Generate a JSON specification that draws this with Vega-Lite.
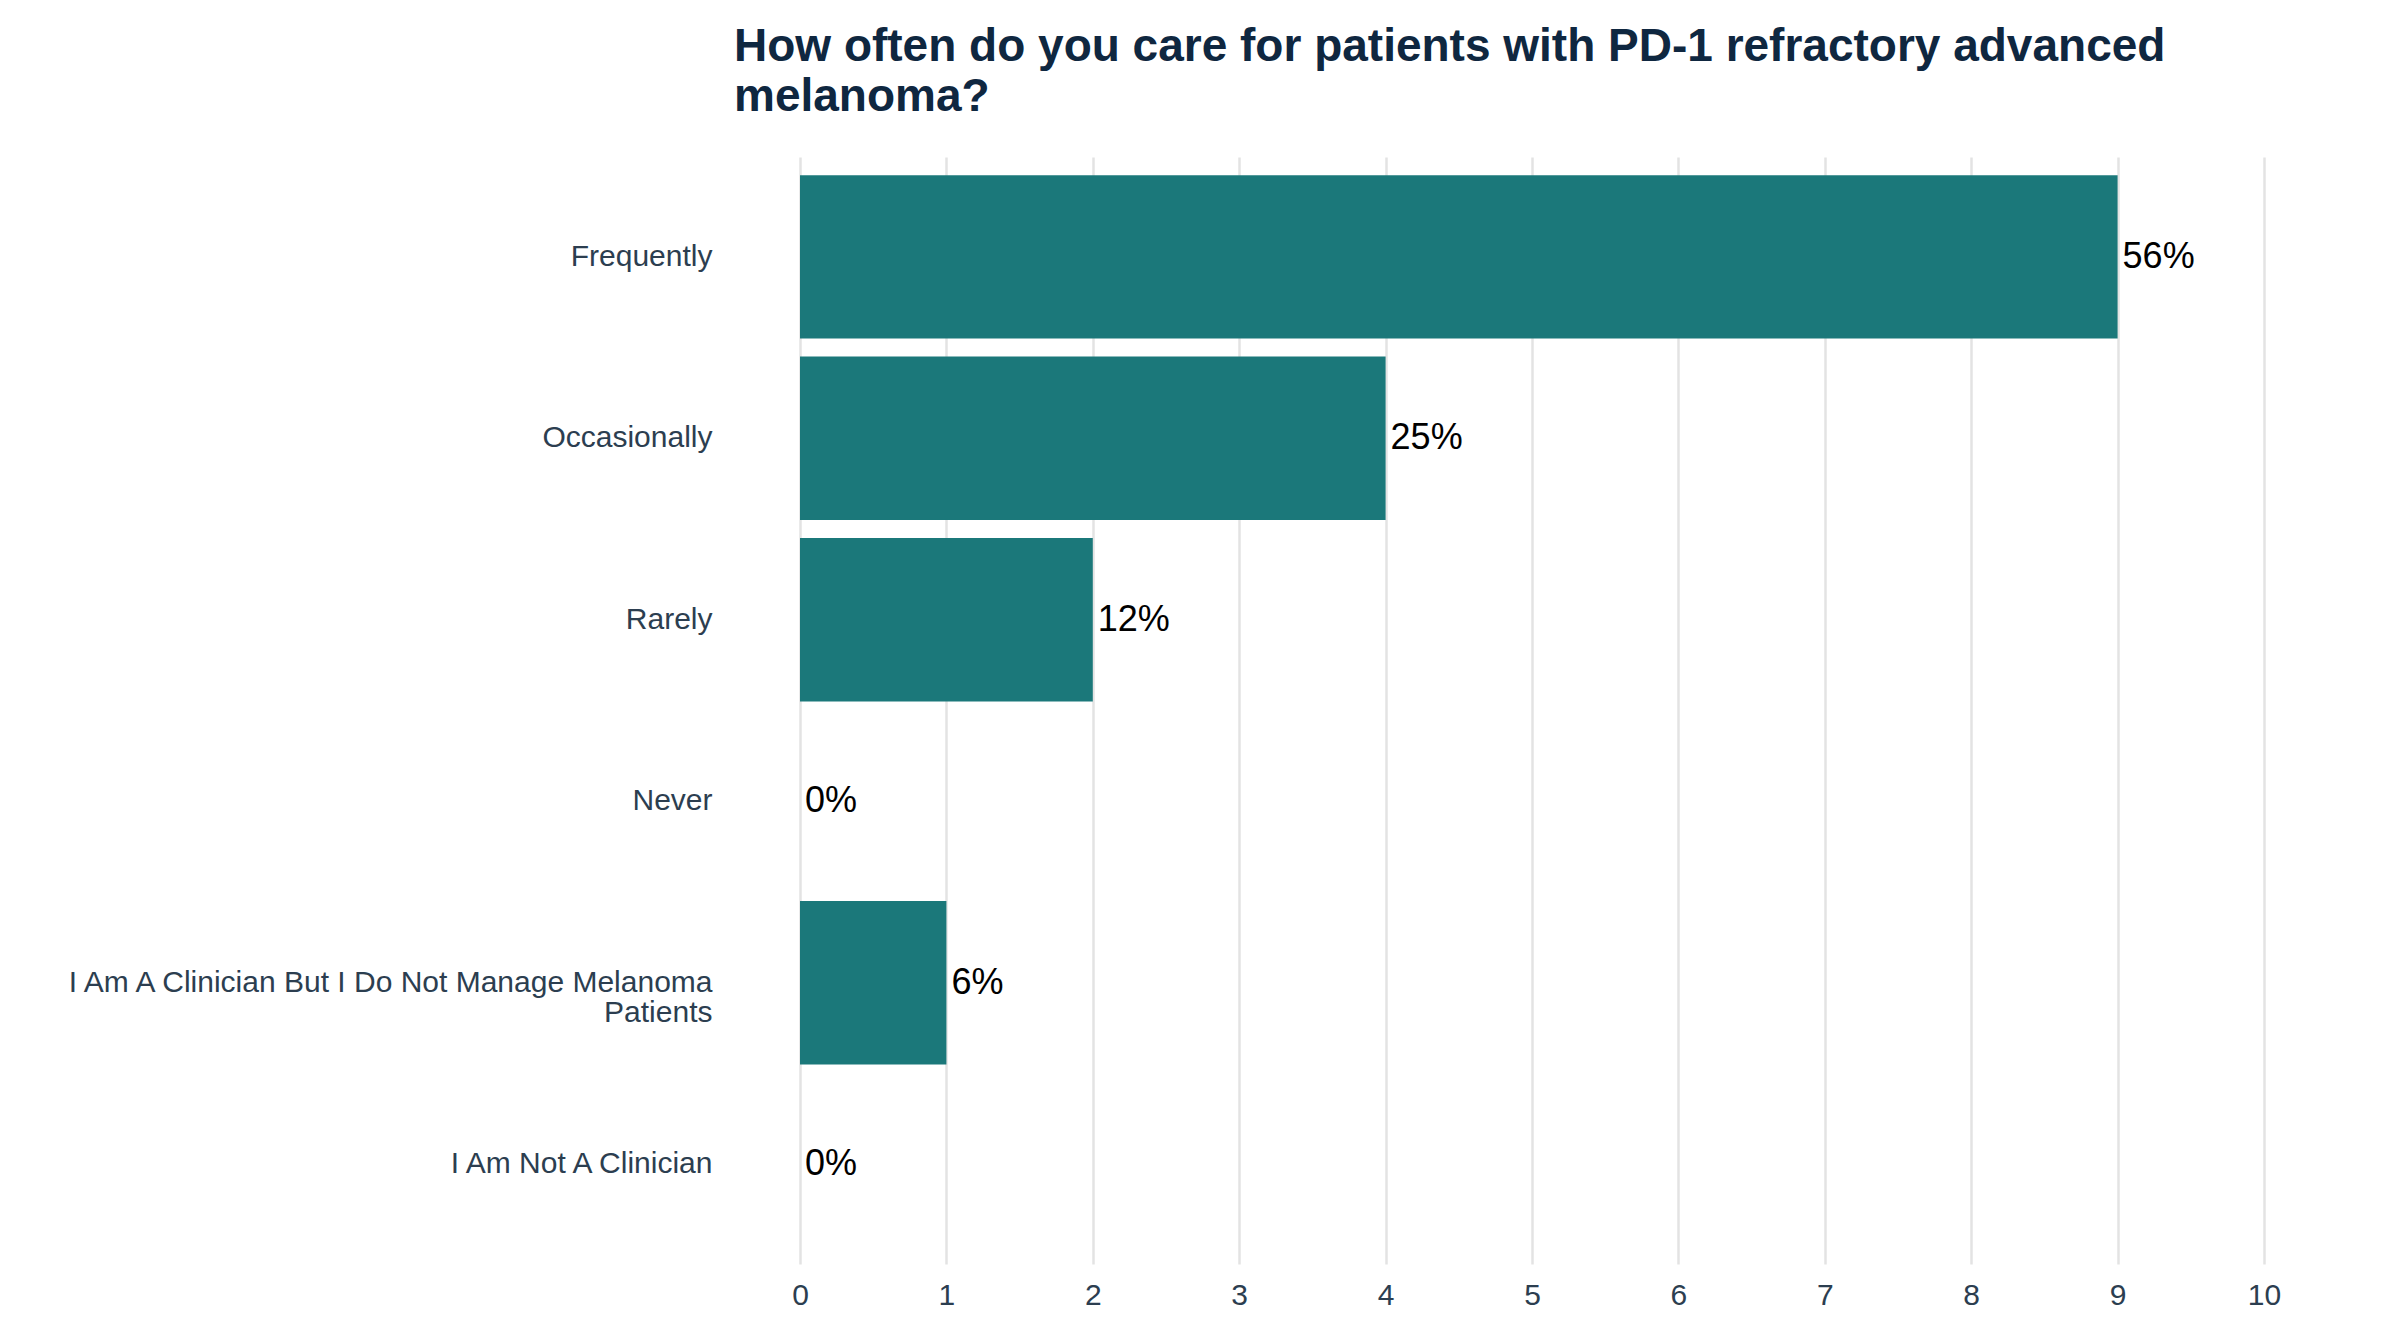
{
  "$schema": "https://vega.github.io/schema/vega-lite/v6.json",
  "width": 1464,
  "height": 1107,
  "autosize": "none",
  "padding": {"left": 800, "top": 157, "right": 136, "bottom": 80},
  "background": "white",
  "title": {
    "text": ["How often do you care for patients with PD-1 refractory advanced", "melanoma?"],
    "anchor": "start",
    "frame": "group",
    "dx": -66,
    "offset": 36,
    "fontSize": 46,
    "font": "Liberation Sans",
    "fontWeight": "bold",
    "color": "#0f2740",
    "lineHeight": 50
  },
  "data": {
    "values": [
      {"category": "Frequently", "count": 9, "pct": "56%"},
      {"category": "Occasionally", "count": 4, "pct": "25%"},
      {"category": "Rarely", "count": 2, "pct": "12%"},
      {"category": "Never", "count": 0, "pct": "0%"},
      {"category": "I Am A Clinician But I Do Not Manage Melanoma|Patients", "count": 1, "pct": "6%"},
      {"category": "I Am Not A Clinician", "count": 0, "pct": "0%"}
    ]
  },
  "encoding": {
    "y": {
      "field": "category",
      "type": "nominal",
      "sort": null,
      "title": null,
      "scale": {"paddingInner": 0.1, "paddingOuter": 0.1},
      "axis": {
        "domain": false,
        "ticks": false,
        "grid": false,
        "labelPadding": 88,
        "labelFontSize": 30,
        "labelFont": "Liberation Sans",
        "labelColor": "#2c3e50",
        "labelLineHeight": 30,
        "labelLimit": 900,
        "labelExpr": "split(datum.label, '|')"
      }
    },
    "x": {
      "field": "count",
      "type": "quantitative",
      "title": null,
      "scale": {"domain": [0, 10], "nice": false},
      "axis": {
        "values": [0, 1, 2, 3, 4, 5, 6, 7, 8, 9, 10],
        "domain": false,
        "ticks": false,
        "grid": true,
        "gridColor": "#e3e3e3",
        "gridWidth": 2.5,
        "labelFlush": false,
        "labelPadding": 16,
        "labelFontSize": 30,
        "labelFont": "Liberation Sans",
        "labelColor": "#2c3e50"
      }
    }
  },
  "layer": [
    {"mark": {"type": "bar", "color": "#1b787a"}},
    {
      "mark": {"type": "text", "align": "left", "dx": 5, "fontSize": 36, "font": "Liberation Sans", "color": "black"},
      "encoding": {"text": {"field": "pct"}}
    }
  ],
  "config": {"view": {"stroke": null}}
}
